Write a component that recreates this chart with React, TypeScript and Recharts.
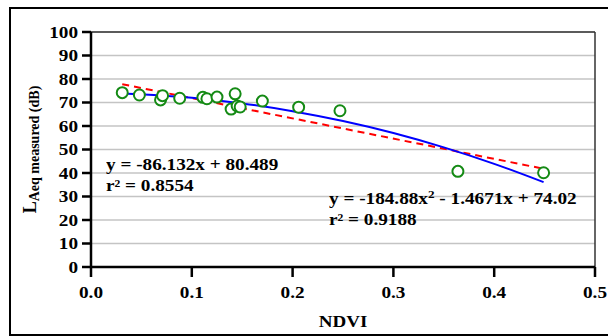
import React from "react";
import {
  ComposedChart,
  Scatter,
  Line,
  XAxis,
  YAxis,
  CartesianGrid,
  ReferenceLine,
  Label,
} from "recharts";

// measured points
const ndvi = [
  0.031, 0.048, 0.069, 0.071, 0.088, 0.111, 0.115, 0.125, 0.139, 0.143,
  0.145, 0.148, 0.17, 0.206, 0.247, 0.364, 0.449,
];
const laeq = [
  74.2, 73.2, 71.1, 72.9, 71.8, 72.2, 71.6, 72.3, 67.2, 73.7, 68.5, 68.1,
  70.6, 68.0, 66.5, 40.7, 40.1,
];

// polynomial trendline
const polyX = [0.031, 0.1, 0.15, 0.2, 0.25, 0.3, 0.35, 0.4, 0.449];
const polyY = [73.8, 72.0, 69.6, 66.3, 62.1, 57.0, 50.9, 43.9, 36.1];

// linear trendline, red dashed
const linX = [0.031, 0.449];
const linY = [77.8, 41.8];

const xTicks = [0, 0.1, 0.2, 0.3, 0.4, 0.5];
const yTicks = [0, 10, 20, 30, 40, 50, 60, 70, 80, 90, 100];

const points = ndvi.map((x, i) => ({ x, y: laeq[i] }));
const poly = polyX.map((x, i) => ({ x, y: polyY[i] }));
const lin = linX.map((x, i) => ({ x, y: linY[i] }));

const FONT = "'Liberation Serif', 'Times New Roman', serif";
const STRETCH = 1.2; // source image is a bit wide

const Marker = (props: any) => (
  <circle
    cx={props.cx}
    cy={props.cy}
    r={5.5}
    fill="#fff"
    stroke="#148a14"
    strokeWidth={2}
  />
);

const XTick = (props: any) => (
  <text
    transform={`translate(${props.x},${props.y}) scale(${STRETCH},1)`}
    textAnchor="middle"
    dy="0.71em"
    fontFamily={FONT}
    fontWeight="bold"
    fontSize={16}
    fill="#000"
  >
    {Number(props.payload.value).toFixed(1)}
  </text>
);

const YTick = (props: any) => (
  <text
    transform={`translate(${props.x},${props.y}) scale(${STRETCH},1)`}
    textAnchor="end"
    dy="0.36em"
    fontFamily={FONT}
    fontWeight="bold"
    fontSize={16}
    fill="#000"
  >
    {props.payload.value}
  </text>
);

const XLabel = (props: any) => {
  const vb = props.viewBox || { x: 91, y: 267, width: 504, height: 60 };
  const cx = vb.x + vb.width / 2;
  const by = vb.y + vb.height;
  return (
    <text
      transform={`translate(${cx},${by}) scale(1.12,1)`}
      textAnchor="middle"
      fontFamily={FONT}
      fontWeight="bold"
      fontSize={17}
      fill="#000"
    >
      NDVI
    </text>
  );
};

const YLabel = (props: any) => {
  const vb = props.viewBox || { x: 31, y: 32, width: 60, height: 235 };
  const cx = vb.x + 5;
  const cy = vb.y + vb.height / 2;
  return (
    <text
      x={cx}
      y={cy}
      transform={`rotate(-90, ${cx}, ${cy})`}
      textAnchor="middle"
      fontFamily={FONT}
      fontWeight="bold"
      fill="#000"
    >
      <tspan fontSize={18}>L</tspan>
      <tspan fontSize={14} dy={3}>
        Aeq measured (dB)
      </tspan>
    </text>
  );
};

const eqStyle: React.CSSProperties = {
  position: "absolute",
  fontFamily: FONT,
  fontWeight: "bold",
  fontSize: 16,
  lineHeight: "21px",
  color: "#000",
  whiteSpace: "nowrap",
  transform: `scaleX(${STRETCH})`,
  transformOrigin: "left center",
};

export default function App() {
  return (
    <div
      style={{
        position: "absolute",
        left: 0,
        top: 0,
        width: 608,
        height: 336,
        overflow: "hidden",
        background: "#fff",
      }}
    >
      <div
        style={{
          position: "absolute",
          left: 9,
          top: 7,
          width: 640,
          height: 329,
          border: "2px solid #000",
          boxSizing: "border-box",
        }}
      />
      <ComposedChart
        width={608}
        height={336}
        margin={{ top: 32, right: 13, bottom: 9, left: 31 }}
        style={{ position: "absolute", left: 0, top: 0 }}
      >
        <CartesianGrid
          horizontal
          vertical={false}
          stroke="#c4c4c4"
          strokeWidth={1.5}
        />
        <XAxis
          type="number"
          dataKey="x"
          domain={[0, 0.5]}
          ticks={xTicks}
          interval={0}
          height={60}
          stroke="#000"
          strokeWidth={2.5}
          tickSize={10}
          tickMargin={10}
          tick={<XTick />}
          allowDataOverflow
        >
          <Label content={<XLabel />} />
        </XAxis>
        <YAxis
          type="number"
          dataKey="y"
          domain={[0, 100]}
          ticks={yTicks}
          interval={0}
          width={60}
          stroke="#000"
          strokeWidth={2.5}
          tickSize={9}
          tickMargin={4}
          tick={<YTick />}
          label={<YLabel />}
        />
        <ReferenceLine y={100} stroke="#333" strokeWidth={1.5} />
        <ReferenceLine x={0.5} stroke="#333" strokeWidth={1.5} />
        <Line
          data={lin}
          dataKey="y"
          type="linear"
          stroke="#ff0000"
          strokeWidth={2}
          strokeDasharray="7 5"
          dot={false}
          isAnimationActive={false}
        />
        <Line
          data={poly}
          dataKey="y"
          type="monotone"
          stroke="#0000ff"
          strokeWidth={2}
          dot={false}
          isAnimationActive={false}
        />
        <Scatter
          data={points}
          dataKey="y"
          shape={<Marker />}
          isAnimationActive={false}
        />
      </ComposedChart>
      <div style={{ ...eqStyle, left: 106, top: 154 }}>y = -86.132x + 80.489</div>
      <div style={{ ...eqStyle, left: 106, top: 175 }}>r² = 0.8554</div>
      <div style={{ ...eqStyle, left: 329, top: 188 }}>
        y = -184.88x<sup style={{ fontSize: 11, lineHeight: 0 }}>2</sup> - 1.4671x + 74.02
      </div>
      <div style={{ ...eqStyle, left: 329, top: 209 }}>r² = 0.9188</div>
    </div>
  );
}
